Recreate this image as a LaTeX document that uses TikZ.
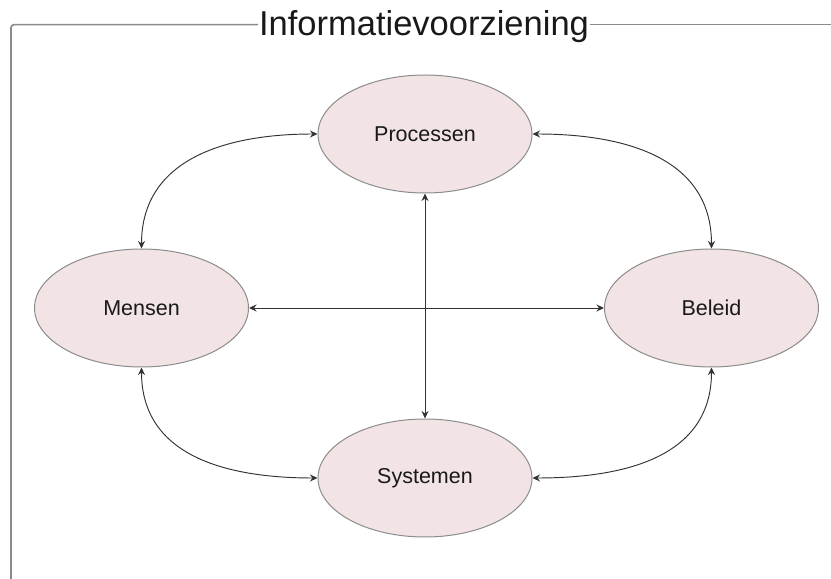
\documentclass[tikz,border=0pt]{standalone}
\usepackage{fontspec}
\setmainfont{Liberation Sans}
\usetikzlibrary{arrows.meta,shapes.geometric}

\definecolor{ellfill}{HTML}{F2E4E4}
\definecolor{ellline}{HTML}{8C8C8C}
\definecolor{linkcol}{HTML}{333333}
\definecolor{framecol}{HTML}{8A8A8A}

\tikzset{
  dombox/.style={ellipse, draw=ellline, fill=ellfill, line width=1pt,
    minimum width=214pt, minimum height=118pt, inner sep=0pt,
    font=\fontsize{21.5pt}{24pt}\selectfont, text=black!90},
  link/.style={draw=linkcol, line width=0.95pt,
    {Stealth[length=7.5pt,width=7pt]}-{Stealth[length=7.5pt,width=7pt]}},
  framestyle/.style={draw=framecol, line width=1.6pt},
}

\begin{document}
\begin{tikzpicture}[x=1pt,y=1pt]
  \useasboundingbox (0,0) rectangle (831,579);

  % outer frame with its heading
  \node[anchor=base, inner sep=0pt, font=\fontsize{34.5pt}{40pt}\selectfont, text=black!90]
    (title) at (424,543) {Informatievoorziening};
  \coordinate (fbl) at (11,0);
  \coordinate (ftl) at (11,554.3);
  \coordinate (tl) at (258,554.3);
  \coordinate (tr) at (590,554.3);
  \coordinate (fr) at (831,554.3);
  \draw[framestyle, rounded corners=3pt] (fbl) -- (ftl) -- (tl);
  \draw[framestyle] (tr) -- (fr);

  % the four domains
  \node[dombox] (proc) at (425,445) {Processen};
  \node[dombox] (mens) at (141.5,271) {Mensen};
  \node[dombox] (bel)  at (711.5,271) {Beleid};
  \node[dombox] (sys)  at (425,101) {Systemen};

  % relations between the domains
  \draw[link] (mens.north) to[out=90,in=180,looseness=1.1] (proc.west);
  \draw[link] (proc.east) to[out=0,in=90,looseness=1.1] (bel.north);
  \draw[link] (mens.south) to[out=-90,in=180,looseness=1.1] (sys.west);
  \draw[link] (sys.east) to[out=0,in=-90,looseness=1.1] (bel.south);
  \draw[link] (mens.east) -- (bel.west);
  \draw[link] (proc.south) -- (sys.north);
\end{tikzpicture}
\end{document}
